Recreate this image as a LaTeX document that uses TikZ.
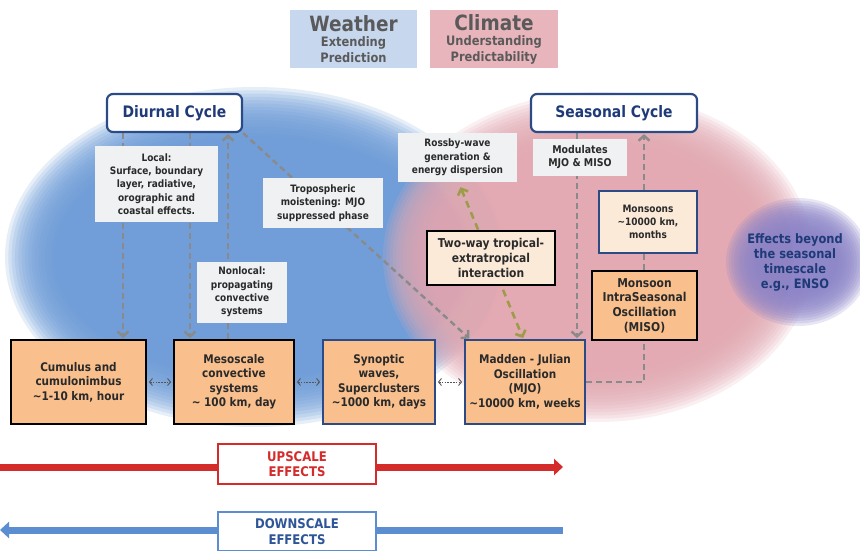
\documentclass[tikz,border=0pt]{standalone}
\usepackage{fontspec}
\setmainfont{DejaVu Sans}[FakeStretch=0.88]
\usetikzlibrary{arrows.meta}
\definecolor{bgblue}{HTML}{6C9CD8}
\definecolor{bgpink}{HTML}{E3A8B2}
\definecolor{bgpurple}{HTML}{8C84C8}
\definecolor{wbox}{HTML}{C6D7EE}
\definecolor{cbox}{HTML}{E9B5BD}
\definecolor{hdrgray}{HTML}{5A5A5A}
\definecolor{navy}{HTML}{2C4A86}
\definecolor{navytext}{HTML}{1F3A78}
\definecolor{orangebox}{HTML}{F9C08E}
\definecolor{peach}{HTML}{FCEAD9}
\definecolor{notebg}{HTML}{EFF1F3}
\definecolor{conn}{HTML}{8A8A8A}
\definecolor{olivec}{HTML}{9E9C4A}
\definecolor{upred}{HTML}{D42B2B}
\definecolor{downblue}{HTML}{5B8ED0}
\definecolor{downtext}{HTML}{2D5597}
\definecolor{txt}{HTML}{2A2A2A}
\definecolor{dotc}{HTML}{555555}
\pgfdeclarelayer{bg}
\pgfdeclarelayer{connl}
\pgfsetlayers{bg,connl,main}
\begin{document}
\begin{tikzpicture}[x=1pt,y=-1pt,
  hdr/.style={align=center, text=hdrgray, inner sep=0pt,
    font=\fontsize{13}{15.5}\selectfont\bfseries},
  note/.style={fill=notebg, align=center, text=txt, inner sep=1pt,
    font=\fontsize{10.2}{13.3}\selectfont\bfseries},
  scalebox/.style={draw, line width=1.8pt, fill=orangebox, align=center, text=txt,
    inner sep=1pt, font=\fontsize{11.9}{14.5}\selectfont\bfseries},
  cyclebox/.style={draw=navy, line width=2.2pt, rounded corners=6pt, fill=white,
    text=navytext, font=\fontsize{15.8}{18}\selectfont\bfseries},
  effbox/.style={line width=1.5pt, fill=white, align=center, inner sep=0pt,
    minimum width=158, font=\fontsize{13.3}{15.5}\selectfont\bfseries},
  dconn/.style={draw=conn, line width=2.4pt, dash pattern=on 6pt off 4pt,
    -{Straight Barb[length=5pt,width=11pt]}, shorten >=1pt},
  oconn/.style={draw=olivec, line width=2.6pt, dash pattern=on 7pt off 5pt,
    {Straight Barb[length=5pt,width=11pt]}-{Straight Barb[length=5pt,width=11pt]}},
  dotarrow/.style={draw=dotc, line width=0.9pt, dash pattern=on 1.6pt off 1.2pt,
    {Straight Barb[length=3pt,width=7pt]}-{Straight Barb[length=3pt,width=7pt]},
    shorten <=2pt, shorten >=2pt}]
\useasboundingbox (0,0) rectangle (860,551);

% background clouds (soft edges from stacked translucent ellipses)
\begin{pgfonlayer}{bg}
\fill[white] (0,0) rectangle (860,551);
\foreach \k in {0,...,15}
  \fill[bgblue, opacity=0.17] (255,257) ellipse [x radius={250-3.3*\k}, y radius={170-3.3*\k}];
\foreach \k in {0,...,15}
  \fill[bgpink, opacity=0.17] (598,257) ellipse [x radius={215-3.3*\k}, y radius={165-3.3*\k}];
\foreach \k in {0,...,13}
  \fill[bgpurple, opacity=0.2] (798,262) ellipse [x radius={72-2.6*\k}, y radius={64-2.6*\k}];
\end{pgfonlayer}

% header boxes
\node[hdr, fill=wbox, minimum width=127, minimum height=58] (weather) at (353.5,39)
  {{\fontsize{21}{22}\selectfont Weather}\\Extending\\Prediction};
\node[hdr, fill=cbox, minimum width=128, minimum height=58] (climate) at (494,39)
  {{\fontsize{21}{22}\selectfont Climate}\\Understanding\\Predictability};

% cycles
\node[cyclebox, minimum width=135, minimum height=38] (diurnal) at (174.5,113) {Diurnal Cycle};
\node[cyclebox, minimum width=166, minimum height=38] (seasonal) at (614,113) {Seasonal Cycle};

% notes
\node[note, minimum width=123, minimum height=76] (local) at (156.5,184)
  {Local:\\Surface, boundary\\layer, radiative,\\orographic and\\coastal effects.};
\node[note, minimum width=90, minimum height=61] (nonlocal) at (242,292)
  {Nonlocal:\\propagating\\convective\\systems};
\node[note, minimum width=120, minimum height=50] (tropo) at (323,203)
  {Tropospheric\\moistening: MJO\\suppressed phase};
\node[note, minimum width=119, minimum height=49] (rossby) at (457.5,157.5)
  {Rossby-wave\\generation \&\\energy dispersion};
\node[note, minimum width=94, minimum height=37, font=\fontsize{10.7}{13}\selectfont\bfseries] (modul) at (580,157.5)
  {Modulates\\MJO \& MISO};

% interaction / monsoon boxes
\node[scalebox, fill=peach, minimum width=128, minimum height=54,
  font=\fontsize{12.2}{15}\selectfont\bfseries] (twoway) at (491,258)
  {Two-way tropical-\\extratropical\\interaction};
\node[scalebox, draw=navy, fill=peach, minimum width=98, minimum height=62,
  font=\fontsize{10.2}{13}\selectfont\bfseries] (monsoons) at (648,222)
  {Monsoons\\\textasciitilde 10000 km,\\months};
\node[scalebox, minimum width=105, minimum height=69,
  font=\fontsize{12.2}{14.7}\selectfont\bfseries] (miso) at (644.5,305.5)
  {Monsoon\\IntraSeasonal\\Oscillation\\(MISO)};

% scale boxes
\node[scalebox, minimum width=135, minimum height=84] (cum) at (78.5,382)
  {Cumulus and\\cumulonimbus\\\textasciitilde 1-10 km, hour};
\node[scalebox, minimum width=120, minimum height=84] (meso) at (234,382)
  {Mesoscale\\convective\\systems\\\textasciitilde\ 100 km, day};
\node[scalebox, draw=navy, minimum width=112, minimum height=84] (syn) at (379,382)
  {Synoptic\\waves,\\Superclusters\\\textasciitilde 1000 km, days};
\node[scalebox, draw=navy, minimum width=120, minimum height=84] (mjo) at (525,382)
  {Madden - Julian\\Oscillation\\(MJO)\\\textasciitilde 10000 km, weeks};

% ENSO
\node[align=center, text=navytext, font=\fontsize{13}{15}\selectfont\bfseries] (enso) at (795,262)
  {Effects beyond\\the seasonal\\timescale\\e.g., ENSO};

% connector helper coordinates
\coordinate (xa) at (123,0);
\coordinate (xb) at (190,0);
\coordinate (xc) at (228,0);
\coordinate (xd) at (577,0);
\coordinate (xe) at (644,0);
\coordinate (xf) at (470,0);
\coordinate (xg) at (523,0);

\begin{pgfonlayer}{connl}
\draw[dconn] (diurnal.south -| xa) -- (cum.north -| xa);
\draw[dconn] (diurnal.south -| xb) -- (meso.north -| xb);
\draw[dconn] (meso.north -| xc) -- (diurnal.south -| xc);
\draw[dconn] (diurnal.south east) -- (mjo.north -| xf);
\draw[oconn] ([xshift=3pt,yshift=-5pt]rossby.south) -- ([yshift=1pt]mjo.north -| xg);
\draw[dconn] (seasonal.south -| xd) -- (mjo.north -| xd);
\draw[dconn] (mjo.east) -| (seasonal.south -| xe);
\draw[dotarrow] (cum.east) -- (meso.west);
\draw[dotarrow] (meso.east) -- (syn.west);
\draw[dotarrow] (syn.east) -- (mjo.west);
\end{pgfonlayer}

% scale effect arrows
\coordinate (rl) at (0,467);
\coordinate (rr) at (563,467);
\coordinate (bl) at (0,530);
\coordinate (br) at (563,530);
\draw[line width=7pt, upred, -{Triangle[length=9pt,width=16pt]}] (rl) -- (rr);
\draw[line width=7pt, downblue, -{Triangle[length=9pt,width=16pt]}] (br) -- (bl);
\node[effbox, draw=upred, text=upred, minimum height=40] (up) at (297,464) {UPSCALE\\EFFECTS};
\node[effbox, draw=downblue, text=downtext, minimum height=39] (down) at (297,531.5) {DOWNSCALE\\EFFECTS};
\end{tikzpicture}
\end{document}
